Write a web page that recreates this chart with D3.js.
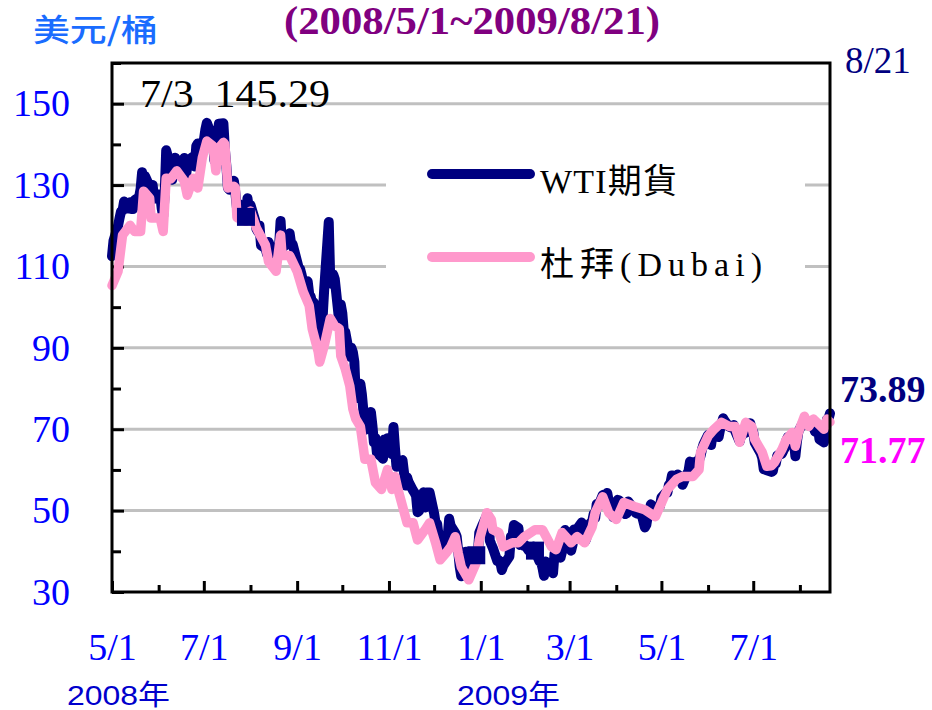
<!DOCTYPE html>
<html><head><meta charset="utf-8">
<script src="https://cdn.jsdelivr.net/npm/d3@7"></script>
<style>body{margin:0;background:#fff}</style>
</head><body><svg id="c" width="932" height="710"></svg>
<script>
// ---- DATA ----
const wti = [
["2008-05-01",112.52],["2008-05-02",116.32],["2008-05-05",119.97],["2008-05-06",121.84],["2008-05-07",123.53],["2008-05-08",123.69],["2008-05-09",125.96],["2008-05-12",124.23],["2008-05-13",125.80],["2008-05-14",124.12],["2008-05-15",124.12],["2008-05-16",126.29],["2008-05-19",127.05],["2008-05-20",129.07],["2008-05-21",133.17],["2008-05-22",130.81],["2008-05-23",132.19],["2008-05-27",128.85],["2008-05-28",130.03],["2008-05-29",126.62],["2008-05-30",127.35],
["2008-06-02",127.76],["2008-06-03",124.31],["2008-06-04",122.30],["2008-06-05",127.79],["2008-06-06",138.54],["2008-06-09",134.35],["2008-06-10",131.31],["2008-06-11",136.38],["2008-06-12",136.74],["2008-06-13",134.86],["2008-06-16",134.61],["2008-06-17",134.01],["2008-06-18",136.68],["2008-06-19",131.93],["2008-06-20",134.62],["2008-06-23",136.74],["2008-06-24",137.00],["2008-06-25",134.55],["2008-06-26",139.64],["2008-06-27",140.21],["2008-06-30",140.00],
["2008-07-01",140.97],["2008-07-02",143.57],["2008-07-03",145.29],["2008-07-07",141.37],["2008-07-08",136.04],["2008-07-09",136.05],["2008-07-10",141.65],["2008-07-11",145.08],["2008-07-14",145.18],["2008-07-15",138.74],["2008-07-16",134.60],["2008-07-17",129.29],["2008-07-18",128.88],["2008-07-21",131.04],["2008-07-22",127.95],["2008-07-23",124.44],["2008-07-24",125.49],["2008-07-25",123.26],["2008-07-28",124.73],["2008-07-29",122.19],["2008-07-30",126.77],["2008-07-31",124.08],
["2008-08-01",125.10],["2008-08-04",121.41],["2008-08-05",119.17],["2008-08-06",118.58],["2008-08-07",120.02],["2008-08-08",115.20],["2008-08-11",114.45],["2008-08-12",113.01],["2008-08-13",116.00],["2008-08-14",115.01],["2008-08-15",113.77],["2008-08-18",112.87],["2008-08-19",114.53],["2008-08-20",114.98],["2008-08-21",121.18],["2008-08-22",114.59],["2008-08-25",115.41],["2008-08-26",116.27],["2008-08-27",118.15],["2008-08-28",115.59],["2008-08-29",115.46],
["2008-09-02",109.71],["2008-09-03",109.35],["2008-09-04",107.89],["2008-09-05",106.23],["2008-09-08",106.34],["2008-09-09",103.26],["2008-09-10",102.58],["2008-09-11",100.87],["2008-09-12",101.18],["2008-09-15",95.71],["2008-09-16",91.15],["2008-09-17",97.16],["2008-09-18",97.88],["2008-09-19",104.55],["2008-09-22",120.92],["2008-09-23",106.61],["2008-09-24",105.73],["2008-09-25",108.02],["2008-09-26",106.89],["2008-09-29",96.37],["2008-09-30",100.64],
["2008-10-01",98.53],["2008-10-02",93.97],["2008-10-03",93.88],["2008-10-06",87.81],["2008-10-07",90.06],["2008-10-08",88.95],["2008-10-09",86.59],["2008-10-10",77.70],["2008-10-13",81.19],["2008-10-14",78.63],["2008-10-15",74.54],["2008-10-16",69.85],["2008-10-17",71.85],["2008-10-20",74.25],["2008-10-21",70.89],["2008-10-22",66.75],["2008-10-23",67.84],["2008-10-24",64.15],["2008-10-27",63.22],["2008-10-28",62.73],["2008-10-29",67.50],["2008-10-30",65.96],["2008-10-31",67.81],
["2008-11-03",63.91],["2008-11-04",70.53],["2008-11-05",65.30],["2008-11-06",60.77],["2008-11-07",61.04],["2008-11-10",62.41],["2008-11-11",59.33],["2008-11-12",56.16],["2008-11-13",58.24],["2008-11-14",57.04],["2008-11-17",54.95],["2008-11-18",54.39],["2008-11-19",53.62],["2008-11-20",49.62],["2008-11-21",49.93],["2008-11-24",54.50],["2008-11-25",50.77],["2008-11-26",54.44],["2008-11-28",54.43],
["2008-12-01",49.28],["2008-12-02",46.96],["2008-12-03",46.79],["2008-12-04",43.67],["2008-12-05",40.81],["2008-12-08",43.71],["2008-12-09",42.07],["2008-12-10",43.52],["2008-12-11",47.98],["2008-12-12",46.28],["2008-12-15",44.51],["2008-12-16",43.60],["2008-12-17",40.06],["2008-12-18",36.22],["2008-12-19",33.87],["2008-12-22",39.91],["2008-12-23",38.98],["2008-12-24",35.35],["2008-12-26",37.71],["2008-12-29",39.03],["2008-12-30",39.03],["2008-12-31",44.60],
["2009-01-02",46.34],["2009-01-05",48.81],["2009-01-06",48.58],["2009-01-07",42.63],["2009-01-08",41.70],["2009-01-09",40.83],["2009-01-12",37.59],["2009-01-13",37.78],["2009-01-14",37.28],["2009-01-15",35.40],["2009-01-16",36.51],["2009-01-20",38.74],["2009-01-21",43.55],["2009-01-22",43.67],["2009-01-23",46.47],["2009-01-26",45.73],["2009-01-27",41.58],["2009-01-28",42.16],["2009-01-29",41.44],["2009-01-30",41.68],
["2009-02-02",40.08],["2009-02-03",40.78],["2009-02-04",40.32],["2009-02-05",41.17],["2009-02-06",40.17],["2009-02-09",37.56],["2009-02-10",37.55],["2009-02-11",35.94],["2009-02-12",33.98],["2009-02-13",37.51],["2009-02-17",34.93],["2009-02-18",34.62],["2009-02-19",39.48],["2009-02-20",38.94],["2009-02-23",38.44],["2009-02-24",39.96],["2009-02-25",42.50],["2009-02-26",45.22],["2009-02-27",44.76],
["2009-03-02",40.15],["2009-03-03",41.65],["2009-03-04",45.38],["2009-03-05",43.61],["2009-03-06",45.52],["2009-03-09",47.07],["2009-03-10",45.71],["2009-03-11",42.33],["2009-03-12",43.01],["2009-03-13",46.25],["2009-03-16",47.35],["2009-03-17",49.16],["2009-03-18",48.14],["2009-03-19",51.61],["2009-03-20",51.06],["2009-03-23",53.80],["2009-03-24",53.98],["2009-03-25",53.77],["2009-03-26",54.34],["2009-03-27",52.38],["2009-03-30",48.41],["2009-03-31",49.66],
["2009-04-01",48.39],["2009-04-02",52.64],["2009-04-03",52.51],["2009-04-06",51.05],["2009-04-07",49.15],["2009-04-08",49.38],["2009-04-09",52.24],["2009-04-13",50.05],["2009-04-14",49.41],["2009-04-15",49.25],["2009-04-16",49.98],["2009-04-17",50.33],["2009-04-20",45.88],["2009-04-21",46.51],["2009-04-22",48.85],["2009-04-23",49.62],["2009-04-24",51.55],["2009-04-27",50.14],["2009-04-28",49.92],["2009-04-29",50.97],["2009-04-30",51.12],
["2009-05-01",53.20],["2009-05-04",54.47],["2009-05-05",54.47],["2009-05-06",56.34],["2009-05-07",56.71],["2009-05-08",58.63],["2009-05-11",58.50],["2009-05-12",58.85],["2009-05-13",58.02],["2009-05-14",58.00],["2009-05-15",56.34],["2009-05-18",59.03],["2009-05-19",59.65],["2009-05-20",62.04],["2009-05-21",61.45],["2009-05-22",61.67],["2009-05-26",62.45],["2009-05-27",63.45],["2009-05-28",65.08],["2009-05-29",66.31],
["2009-06-01",68.58],["2009-06-02",68.55],["2009-06-03",66.12],["2009-06-04",68.81],["2009-06-05",68.44],["2009-06-08",68.09],["2009-06-09",70.01],["2009-06-10",71.33],["2009-06-11",72.68],["2009-06-12",72.04],["2009-06-15",70.62],["2009-06-16",70.47],["2009-06-17",70.47],["2009-06-18",71.03],["2009-06-19",69.55],["2009-06-22",67.00],["2009-06-23",68.68],["2009-06-24",68.67],["2009-06-25",69.70],["2009-06-26",69.16],["2009-06-29",71.49],["2009-06-30",69.89],
["2009-07-01",69.31],["2009-07-02",66.73],["2009-07-06",64.05],["2009-07-07",62.93],["2009-07-08",60.14],["2009-07-09",60.41],["2009-07-10",59.89],["2009-07-13",59.52],["2009-07-14",59.69],["2009-07-15",61.54],["2009-07-16",61.54],["2009-07-17",63.56],["2009-07-20",63.98],["2009-07-21",64.72],["2009-07-22",65.40],["2009-07-23",67.23],["2009-07-24",68.05],["2009-07-27",68.38],["2009-07-28",67.23],["2009-07-29",63.35],["2009-07-30",66.94],["2009-07-31",69.45],
["2009-08-03",71.58],["2009-08-04",71.42],["2009-08-05",71.97],["2009-08-06",71.94],["2009-08-07",70.93],["2009-08-10",70.60],["2009-08-11",69.45],["2009-08-12",70.16],["2009-08-13",70.52],["2009-08-14",67.51],["2009-08-17",66.75],["2009-08-18",69.19],["2009-08-19",72.42],["2009-08-20",72.54],["2009-08-21",73.89]
];
const dubai = [
["2008-05-01",105.3],["2008-05-05",108.8],["2008-05-08",117.7],["2008-05-13",120.1],["2008-05-16",118.6],["2008-05-20",118.6],["2008-05-22",128.5],["2008-05-26",126.8],["2008-05-27",121.9],["2008-06-02",121.9],["2008-06-04",118.6],["2008-06-06",131.7],["2008-06-09",131.5],["2008-06-13",133.5],["2008-06-18",131.0],["2008-06-20",127.5],["2008-06-24",131.7],["2008-06-27",129.3],["2008-06-30",136.7],
["2008-07-03",140.8],["2008-07-07",139.6],["2008-07-09",133.5],["2008-07-11",139.1],["2008-07-14",140.5],["2008-07-15",140.0],["2008-07-17",129.3],["2008-07-21",129.7],["2008-07-22",129.3],["2008-07-23",122.0],["2008-07-29",121.1],["2008-08-01",123.6],["2008-08-05",119.4],["2008-08-11",115.2],["2008-08-13",111.2],["2008-08-18",108.8],["2008-08-21",117.7],["2008-08-22",112.7],["2008-08-27",112.7],["2008-09-01",108.8],["2008-09-05",103.8],
["2008-09-09",100.4],["2008-09-11",94.7],["2008-09-15",89.0],["2008-09-16",86.5],["2008-09-19",90.5],["2008-09-23",97.2],["2008-09-26",95.4],["2008-09-29",94.7],["2008-09-30",88.0],["2008-10-03",84.8],["2008-10-06",80.6],["2008-10-08",75.0],["2008-10-10",72.5],["2008-10-13",70.7],["2008-10-16",62.6],["2008-10-20",62.6],["2008-10-23",56.9],["2008-10-27",55.2],["2008-10-31",60.1],
["2008-11-03",55.2],["2008-11-05",58.4],["2008-11-07",55.2],["2008-11-13",47.0],["2008-11-17",47.0],["2008-11-20",42.8],["2008-11-25",45.3],["2008-11-28",47.0],["2008-12-02",42.1],["2008-12-05",37.9],["2008-12-09",39.6],["2008-12-12",41.1],["2008-12-15",43.6],["2008-12-17",39.6],["2008-12-19",36.2],["2008-12-24",33.0],["2008-12-29",37.2],["2008-12-31",42.8],
["2009-01-05",49.5],["2009-01-08",47.8],["2009-01-09",45.3],["2009-01-13",44.6],["2009-01-16",41.1],["2009-01-22",42.1],["2009-01-26",42.1],["2009-01-30",43.6],["2009-02-06",45.3],["2009-02-11",45.3],["2009-02-17",41.1],["2009-02-20",40.4],["2009-02-24",44.6],["2009-03-02",42.1],["2009-03-06",43.6],["2009-03-11",42.1],["2009-03-16",46.0],["2009-03-18",49.5],["2009-03-23",53.4],["2009-03-27",49.5],
["2009-04-01",47.8],["2009-04-06",52.0],["2009-04-13",51.0],["2009-04-20",50.2],["2009-04-27",48.5],["2009-04-30",51.0],["2009-05-05",55.2],["2009-05-11",57.7],["2009-05-15",58.4],["2009-05-22",58.4],["2009-05-26",60.1],["2009-05-27",64.3],["2009-06-01",68.3],["2009-06-05",70.0],["2009-06-10",71.7],["2009-06-15",70.7],["2009-06-19",70.7],["2009-06-22",66.8],["2009-06-26",71.7],["2009-06-30",70.7],
["2009-07-02",67.5],["2009-07-07",64.3],["2009-07-10",60.9],["2009-07-13",61.0],["2009-07-15",61.8],["2009-07-20",65.0],["2009-07-23",67.5],["2009-07-27",69.2],["2009-07-29",65.8],["2009-07-31",69.2],["2009-08-04",73.2],["2009-08-07",70.7],["2009-08-10",72.5],["2009-08-17",70.0],["2009-08-19",72.5],["2009-08-21",71.77]
];
const wtiMarkerDates = ["2008-07-29","2008-12-29","2009-02-06"];
const yTickValues = [30,50,70,90,110,130,150];
const yMinorTicks = [40,60,80,100,120,140,160];
const xMajorTicks = ["2008-05-01","2008-07-01","2008-09-01","2008-11-01","2009-01-01","2009-03-01","2009-05-01","2009-07-01"];
const xTickLabels = ["5/1","7/1","9/1","11/1","1/1","3/1","5/1","7/1"];
const xMinorTicks = ["2008-06-01","2008-08-01","2008-10-01","2008-12-01","2009-02-01","2009-04-01","2009-06-01","2009-08-01"];
const seriesNames = ["WTI期貨","杜拜(Dubai)"];
const startDate = "2008-05-01", endDate = "2009-08-21";

// ---- CHART ----
const parse = d3.timeParse("%Y-%m-%d");
const svg = d3.select("#c");
const L = 112, R = 830, T = 63, B = 592;
const x = d3.scaleTime().domain([parse(startDate), parse(endDate)]).range([L, R]);
const y = d3.scaleLinear().domain([30, 160]).range([B, T]);
const serif = "'Liberation Serif','Times New Roman',serif";
const cjk = "'Liberation Serif','Noto Sans CJK TC',serif";

svg.append("rect").attr("width",932).attr("height",710).attr("fill","#fff");

// gridlines
svg.append("g").selectAll("line").data(yTickValues.filter(v => v > 30)).join("line")
  .attr("x1", L).attr("x2", R).attr("y1", d => y(d)).attr("y2", d => y(d))
  .attr("stroke", "#c0c0c0").attr("stroke-width", 3);

// legend background (hides gridlines)
svg.append("rect").attr("x",386).attr("y",138).attr("width",419).attr("height",160).attr("fill","#fff");

// axes
const yMajor = svg.append("g").attr("transform",`translate(${L},0)`)
  .call(d3.axisLeft(y).tickValues(yTickValues).tickSize(-12).tickPadding(42).tickFormat(d3.format("d")));
const yMinor = svg.append("g").attr("transform",`translate(${L},0)`)
  .call(d3.axisLeft(y).tickValues(yMinorTicks).tickSize(-9).tickFormat(""));
const xMajor = svg.append("g").attr("transform",`translate(0,${B})`)
  .call(d3.axisBottom(x).tickValues(xMajorTicks.map(parse)).tickSize(-11).tickPadding(41)
    .tickFormat((d,i) => xTickLabels[i]));
const xMinor = svg.append("g").attr("transform",`translate(0,${B})`)
  .call(d3.axisBottom(x).tickValues(xMinorTicks.map(parse)).tickSize(-7).tickFormat(""));
[yMajor,yMinor,xMajor,xMinor].forEach(g => {
  g.select(".domain").remove();
  g.selectAll(".tick line").attr("stroke","#000").attr("stroke-width",3);
  g.selectAll(".tick text").attr("fill","#0000ff").attr("font-family",serif).attr("font-size",38);
});

// series
const line = d3.line().x(d => x(parse(d[0]))).y(d => y(d[1]));
const plot = svg.append("g");
plot.append("path").datum(wti).attr("d", line).attr("fill","none")
  .attr("stroke","#000080").attr("stroke-width",10).attr("stroke-linejoin","round").attr("stroke-linecap","round");
plot.append("path").datum(dubai).attr("d", line).attr("fill","none")
  .attr("stroke","#ff99cc").attr("stroke-width",9.5).attr("stroke-linejoin","round").attr("stroke-linecap","round");
const wtiMap = new Map(wti);
plot.selectAll("rect.mk").data(wtiMarkerDates).join("rect").attr("class","mk")
  .attr("x", d => x(parse(d)) - 9).attr("y", d => y(wtiMap.get(d)) - 9)
  .attr("width",18).attr("height",18).attr("fill","#000080");

// frame
svg.append("rect").attr("x",L).attr("y",T).attr("width",R-L).attr("height",B-T)
  .attr("fill","none").attr("stroke","#000").attr("stroke-width",3);

// legend
const legY = [174, 257];
const legC = ["#000080","#ff99cc"];
const legLen = [137, 222];
seriesNames.forEach((n,i) => {
  svg.append("line").attr("x1",432).attr("x2",530).attr("y1",legY[i]).attr("y2",legY[i])
    .attr("stroke",legC[i]).attr("stroke-width",10).attr("stroke-linecap","round");
  svg.append("text").attr("x",540).attr("y",legY[i]+19).text(n)
    .attr("font-family",cjk).attr("font-size",34).attr("fill","#000")
    .attr("textLength",legLen[i]).attr("lengthAdjust","spacing");
});

// texts
svg.append("text").attr("x",472).attr("y",34).attr("text-anchor","middle")
  .attr("font-family",serif).attr("font-weight","bold").attr("font-size",39).attr("fill","#800080")
  .attr("textLength",376).attr("lengthAdjust","spacingAndGlyphs")
  .text(`(${startDate.slice(0,4)}/5/1~${endDate.slice(0,4)}/8/21)`);
svg.append("text").attr("x",33).attr("y",41).text("美元/桶")
  .attr("font-family","'Noto Sans CJK TC',sans-serif").attr("font-size",31).attr("font-weight",500).attr("fill","#1a6cff")
  .attr("textLength",125).attr("lengthAdjust","spacingAndGlyphs");
svg.append("text").attr("x",140).attr("y",107).style("white-space","pre").text("7/3  145.29")
  .attr("font-family",serif).attr("font-size",41).attr("fill","#000")
  .attr("textLength",190).attr("lengthAdjust","spacingAndGlyphs");
svg.append("text").attr("x",845).attr("y",73).text("8/21")
  .attr("font-family",serif).attr("font-size",37).attr("fill","#000080");
svg.append("text").attr("x",840).attr("y",402).text(wti[wti.length-1][1].toFixed(2))
  .attr("font-family",serif).attr("font-weight","bold").attr("font-size",38).attr("fill","#000080");
svg.append("text").attr("x",840).attr("y",463).text(dubai[dubai.length-1][1].toFixed(2))
  .attr("font-family",serif).attr("font-weight","bold").attr("font-size",38).attr("fill","#ff00ff");
[["2008年",67],["2009年",457]].forEach(([t,xx]) => {
  svg.append("text").attr("x",xx).attr("y",705).text(t)
    .attr("font-family","'Liberation Sans','Noto Sans CJK TC',sans-serif").attr("font-size",28).attr("fill","#0000cc")
    .attr("textLength",103).attr("lengthAdjust","spacingAndGlyphs");
});
</script></body></html>
